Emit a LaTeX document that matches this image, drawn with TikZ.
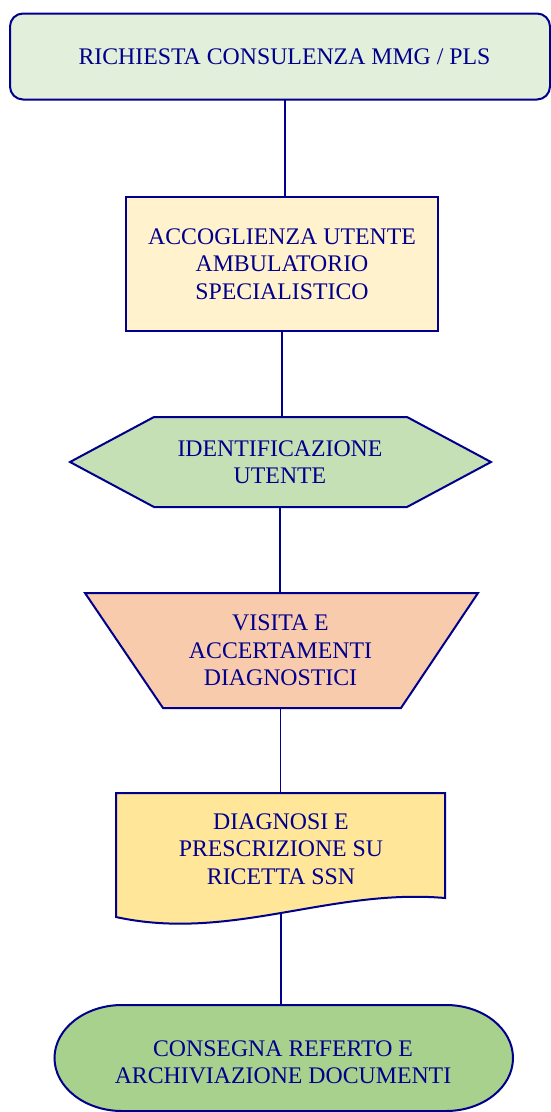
\documentclass[tikz,border=0pt]{standalone}
\usepackage{fontspec}
\setmainfont{Liberation Serif}
\usetikzlibrary{backgrounds}
\definecolor{navyb}{RGB}{0,0,140}
\definecolor{fillA}{RGB}{226,239,218}
\definecolor{fillB}{RGB}{255,242,204}
\definecolor{fillC}{RGB}{197,224,180}
\definecolor{fillD}{RGB}{248,203,173}
\definecolor{fillE}{RGB}{255,230,153}
\definecolor{fillF}{RGB}{169,209,142}
\begin{document}
\begin{tikzpicture}[x=1pt,y=-1pt,
  lbl/.style={inner sep=0pt, align=center, text=navyb, font=\fontsize{23.8}{27.3}\selectfont},
  shp/.style={draw=navyb, line width=2pt, line join=miter},
  link/.style={draw=navyb, line width=2pt},
  thinlink/.style={draw=navyb, line width=1.3pt}]
\useasboundingbox (0,0) rectangle (551,1112);

\node[lbl, minimum width=520pt, minimum height=86pt] (n1) at (284.5,56.5) {RICHIESTA CONSULENZA MMG / PLS};
\node[lbl, minimum width=312pt, minimum height=134pt] (n2) at (282,264) {ACCOGLIENZA UTENTE\\AMBULATORIO\\SPECIALISTICO};
\node[lbl, minimum width=250pt, minimum height=90pt] (n3) at (280,462) {IDENTIFICAZIONE\\UTENTE};
\node[lbl, minimum width=230pt, minimum height=115pt] (n4) at (280.5,650.5) {VISITA E\\ACCERTAMENTI\\DIAGNOSTICI};
\node[lbl, minimum width=300pt, minimum height=112pt] (n5) at (281,849) {DIAGNOSI E\\PRESCRIZIONE SU\\RICETTA SSN};
\node[lbl, minimum width=440pt, minimum height=115pt] (n6) at (283,1062.5) {CONSEGNA REFERTO E\\ARCHIVIAZIONE DOCUMENTI};

\begin{scope}[on background layer]
  \draw[shp, fill=fillA, rounded corners=13pt] (10,13.5) rectangle (550,99.5);
  \draw[shp, fill=fillB] (126,197) rectangle (438,331);
  \draw[shp, fill=fillC] (70,462) -- (154,417) -- (407,417) -- (491,462) -- (407,507) -- (154,507) -- cycle;
  \draw[shp, fill=fillD] (85,593) -- (478,593) -- (401,708) -- (163,708) -- cycle;
  \draw[shp, fill=fillE] (116,793) -- (445,793) -- (445,898)
     .. controls (330,888) and (230,942) .. (116,917) -- cycle;
  \draw[shp, fill=fillF] (122,1005) -- (446,1005)
     .. controls (483,1005) and (513,1028.7) .. (513,1058)
     .. controls (513,1087.3) and (483,1111) .. (446,1111)
     -- (122,1111)
     .. controls (85,1111) and (54.5,1087.3) .. (54.5,1058)
     .. controls (54.5,1028.7) and (85,1005) .. (122,1005) -- cycle;
\end{scope}

\draw[link] (n1.south) -- (n1.south |- n2.north);
\draw[link] (n2.south) -- (n2.south |- n3.north);
\draw[thinlink] (n3.south) -- (n3.south |- n4.north);
\draw[thinlink] (n4.south) -- (n4.south |- n5.north);
\draw[thinlink, shorten <=9pt] (n5.south) -- (n5.south |- n6.north);
\end{tikzpicture}
\end{document}
